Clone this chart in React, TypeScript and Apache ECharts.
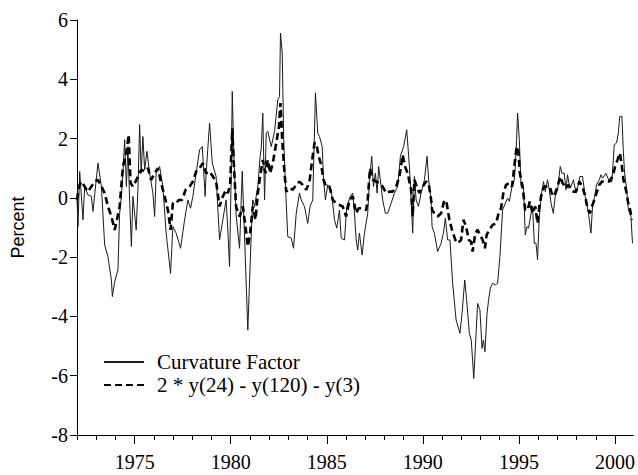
import React, { useEffect, useRef } from "react";
import * as echarts from "echarts";

// Curvature factor (thin solid line), [year, percent]
const curvature: [number, number][] = [
  [1972.0, 0.0], [1972.05, -0.97], [1972.14, 0.89], [1972.31, -0.74], [1972.4, 0.38], [1972.57, 0.1],
  [1972.75, 0.05], [1972.83, -0.46], [1973.09, 1.17], [1973.27, 0.38], [1973.44, -1.59], [1973.61, -1.98],
  [1973.79, -2.77], [1973.84, -3.33], [1973.96, -2.83], [1974.13, -2.43], [1974.22, -0.52], [1974.31, 0.05],
  [1974.39, 0.83], [1974.48, 1.96], [1974.57, 0.38], [1974.65, 1.73], [1974.74, -0.07], [1974.83, -1.64],
  [1974.91, 0.05], [1975.08, -1.08], [1975.17, 0.27], [1975.26, 2.47], [1975.34, 0.83], [1975.43, 2.07],
  [1975.52, 0.95], [1975.64, 1.57], [1975.78, 0.83], [1975.95, 0.16], [1976.04, -0.63], [1976.12, 0.83],
  [1976.3, 1.06], [1976.47, 0.38], [1976.64, -1.19], [1976.87, -2.55], [1976.99, -0.97], [1977.16, -1.19],
  [1977.39, -1.7], [1977.6, -0.74], [1977.77, -0.07], [1977.91, -0.35], [1978.03, 0.05], [1978.2, 0.83],
  [1978.38, 1.62], [1978.52, 1.73], [1978.67, 0.05], [1978.72, 0.83], [1978.9, 2.52], [1979.04, 1.17],
  [1979.24, 0.72], [1979.42, -1.42], [1979.59, -0.74], [1979.76, -0.07], [1979.85, -1.08], [1979.94, -2.32],
  [1980.02, 0.61], [1980.08, 3.59], [1980.15, 1.73], [1980.28, -0.57], [1980.46, -1.7], [1980.6, 0.9],
  [1980.89, -4.46], [1981.07, -1.19], [1981.15, -0.07], [1981.24, -0.29], [1981.41, 0.38], [1981.53, 1.4],
  [1981.59, 1.68], [1981.67, 2.86], [1981.76, -0.07], [1981.85, 2.18], [1981.93, 2.24], [1982.11, 1.73],
  [1982.28, 2.24], [1982.45, 3.31], [1982.54, 3.42], [1982.59, 5.56], [1982.68, 4.89], [1982.76, 1.96],
  [1982.85, 0.38], [1982.97, -1.31], [1983.15, -1.36], [1983.27, -1.7], [1983.41, -0.52], [1983.58, 0.16],
  [1983.67, -0.07], [1983.84, -0.29], [1984.01, -0.86], [1984.13, -0.29], [1984.27, -0.07], [1984.41, 3.54],
  [1984.53, 2.18], [1984.62, 2.07], [1984.76, 1.73], [1984.83, 0.61], [1984.93, -0.07], [1985.05, 0.44],
  [1985.23, 0.27], [1985.4, -0.74], [1985.52, -1.02], [1985.66, -0.41], [1985.75, -1.36], [1985.92, -1.42],
  [1986.04, -0.29], [1986.23, 0.05], [1986.35, 0.16], [1986.44, -0.52], [1986.53, -1.42], [1986.61, -1.76],
  [1986.7, -1.19], [1986.84, -1.93], [1986.96, -1.19], [1987.13, -0.52], [1987.22, 0.61], [1987.34, 1.4],
  [1987.43, 0.38], [1987.53, 0.83], [1987.62, 0.16], [1987.7, 1.06], [1987.83, 0.38], [1987.91, -0.07],
  [1988.05, -0.52], [1988.17, -0.52], [1988.35, -0.18], [1988.52, 0.16], [1988.69, 0.38], [1988.83, 1.4],
  [1989.0, 1.73], [1989.16, 2.3], [1989.3, 1.06], [1989.39, -0.07], [1989.47, -1.19], [1989.56, 0.72],
  [1989.65, -0.07], [1989.77, -0.29], [1989.91, 0.16], [1990.08, 0.61], [1990.22, 1.4], [1990.3, 0.61],
  [1990.43, -0.07], [1990.48, -0.97], [1990.6, -1.19], [1990.77, -1.81], [1990.95, -1.53], [1991.07, -1.19],
  [1991.17, -0.69], [1991.29, -1.42], [1991.41, -1.42], [1991.55, -2.88], [1991.73, -4.12], [1991.93, -4.57],
  [1992.04, -3.9], [1992.18, -2.77], [1992.28, -3.45], [1992.42, -4.57], [1992.52, -4.8], [1992.65, -6.09],
  [1992.77, -4.57], [1992.85, -3.56], [1992.97, -3.78], [1993.08, -5.08], [1993.15, -4.8], [1993.23, -5.19],
  [1993.34, -3.9], [1993.42, -3.45], [1993.51, -3.05], [1993.63, -2.88], [1993.77, -2.94], [1993.89, -2.88],
  [1994.01, -1.98], [1994.15, -0.41], [1994.29, -0.18], [1994.41, -0.01], [1994.5, -0.12], [1994.64, 0.38],
  [1994.76, 0.61], [1994.81, 1.06], [1994.88, 1.96], [1994.93, 2.86], [1995.02, 1.96], [1995.11, 0.38],
  [1995.24, 0.33], [1995.33, -1.25], [1995.42, -0.97], [1995.5, -1.02], [1995.63, -0.52], [1995.71, -0.29],
  [1995.8, -1.53], [1995.89, -1.53], [1995.97, -2.09], [1996.06, -0.63], [1996.18, 0.16], [1996.28, 0.55],
  [1996.37, 0.21], [1996.49, 0.61], [1996.58, 0.27], [1996.67, -0.18], [1996.79, -0.52], [1996.89, 0.05],
  [1997.01, 0.27], [1997.15, 1.06], [1997.24, 0.83], [1997.36, 0.83], [1997.45, 0.27], [1997.53, 0.78],
  [1997.62, 0.44], [1997.71, 0.38], [1997.84, 0.61], [1997.97, 0.16], [1998.09, 0.44], [1998.17, 0.72],
  [1998.31, 0.72], [1998.45, 0.05], [1998.54, -0.24], [1998.62, -0.52], [1998.75, -1.19], [1998.83, -0.29],
  [1998.94, 0.05], [1999.04, 0.44], [1999.18, 0.61], [1999.27, 0.78], [1999.35, 0.66], [1999.53, 0.83],
  [1999.7, 0.55], [1999.84, 0.55], [1999.96, 1.79], [2000.08, 1.85], [2000.17, 2.18], [2000.25, 2.75],
  [2000.36, 2.75], [2000.43, 1.62], [2000.5, 0.83], [2000.6, 0.33], [2000.7, -0.41], [2000.83, -0.63],
  [2000.91, -1.53],
];

// 2 * y(24) - y(120) - y(3) (thick dashed line), [year, percent]
const spread: [number, number][] = [
  [1972.0, -0.07], [1972.1, 0.38], [1972.23, 0.55], [1972.4, 0.38], [1972.57, 0.21], [1972.75, 0.38],
  [1972.92, 0.55], [1973.09, 0.61], [1973.27, 0.38], [1973.44, 0.16], [1973.61, -0.29], [1973.79, -0.63],
  [1973.96, -1.08], [1974.08, -0.74], [1974.22, -0.29], [1974.39, 1.06], [1974.57, 1.51], [1974.69, 2.13],
  [1974.79, 0.5], [1974.91, 0.38], [1975.05, 0.55], [1975.17, 0.72], [1975.34, 0.95], [1975.52, 0.89],
  [1975.69, 1.0], [1975.86, 0.61], [1976.04, 0.83], [1976.21, 1.0], [1976.38, 0.5], [1976.56, 0.05],
  [1976.73, -0.41], [1976.87, -1.08], [1976.99, -0.18], [1977.16, -0.18], [1977.3, -0.07], [1977.47, -0.07],
  [1977.65, 0.27], [1977.86, 0.38], [1978.03, 0.55], [1978.2, 0.89], [1978.38, 1.0], [1978.55, 1.17],
  [1978.72, 0.83], [1978.9, 0.89], [1979.07, 0.72], [1979.24, 0.55], [1979.42, -0.29], [1979.59, 0.05],
  [1979.76, 0.27], [1979.85, 0.16], [1979.97, 0.44], [1980.08, 2.35], [1980.16, 1.17], [1980.28, -0.29],
  [1980.46, -0.63], [1980.63, -0.29], [1980.77, -0.97], [1980.89, -1.64], [1981.01, -1.19], [1981.15, -0.29],
  [1981.29, -0.74], [1981.41, 0.16], [1981.53, 0.72], [1981.67, 1.28], [1981.81, 0.83], [1981.93, 1.28],
  [1982.05, 0.83], [1982.19, 1.17], [1982.37, 1.85], [1982.51, 2.41], [1982.59, 3.2], [1982.68, 1.96],
  [1982.8, 0.83], [1982.89, 0.21], [1983.06, 0.33], [1983.23, 0.27], [1983.41, 0.44], [1983.58, 0.55],
  [1983.75, 0.44], [1983.93, 0.27], [1984.1, 0.55], [1984.24, 1.28], [1984.36, 1.85], [1984.45, 1.85],
  [1984.58, 1.4], [1984.71, 1.11], [1984.83, 0.61], [1984.97, 0.38], [1985.14, 0.38], [1985.31, -0.07],
  [1985.49, -0.18], [1985.66, -0.24], [1985.83, -0.29], [1986.01, -0.63], [1986.18, -0.07], [1986.35, 0.05],
  [1986.53, -0.52], [1986.66, -0.35], [1986.84, -0.35], [1987.05, -0.41], [1987.13, -0.07], [1987.25, 1.0],
  [1987.39, 0.61], [1987.57, 0.55], [1987.74, 0.5], [1987.91, 0.38], [1988.09, 0.16], [1988.26, 0.21],
  [1988.43, 0.21], [1988.61, 0.38], [1988.78, 0.72], [1988.95, 1.45], [1989.07, 1.06], [1989.21, 0.83],
  [1989.39, 0.27], [1989.47, -0.63], [1989.56, 0.61], [1989.68, 0.38], [1989.82, 0.16], [1989.99, 0.38],
  [1990.17, 0.55], [1990.3, 0.5], [1990.43, -0.07], [1990.48, -0.41], [1990.6, -0.52], [1990.77, -0.63],
  [1990.95, -0.52], [1991.12, -0.07], [1991.24, -0.18], [1991.38, -0.74], [1991.52, -1.08], [1991.69, -1.42],
  [1991.81, -1.53], [1991.99, -1.42], [1992.11, -0.74], [1992.25, -0.97], [1992.39, -1.42], [1992.51, -1.48],
  [1992.59, -1.81], [1992.73, -1.19], [1992.85, -1.08], [1992.97, -1.25], [1993.11, -1.42], [1993.23, -1.7],
  [1993.32, -1.25], [1993.46, -1.08], [1993.63, -0.91], [1993.81, -0.86], [1993.94, -0.52], [1994.07, -0.35],
  [1994.19, 0.16], [1994.33, 0.44], [1994.5, 0.5], [1994.64, 0.38], [1994.76, 1.06], [1994.88, 1.73],
  [1994.97, 1.57], [1995.05, 0.83], [1995.19, 0.38], [1995.33, -0.41], [1995.45, -0.41], [1995.57, -0.12],
  [1995.71, -0.52], [1995.85, -0.29], [1995.97, -0.86], [1996.06, -0.29], [1996.2, 0.21], [1996.32, 0.38],
  [1996.49, 0.38], [1996.61, 0.38], [1996.75, 0.05], [1996.89, 0.16], [1997.01, 0.38], [1997.15, 0.72],
  [1997.27, 0.5], [1997.45, 0.33], [1997.58, 0.44], [1997.71, 0.27], [1997.84, 0.21], [1997.97, 0.21],
  [1998.14, 0.55], [1998.31, 0.38], [1998.45, 0.05], [1998.57, -0.35], [1998.69, -0.52], [1998.8, -0.29],
  [1998.92, -0.07], [1999.06, 0.21], [1999.18, 0.44], [1999.32, 0.55], [1999.49, 0.55], [1999.7, 0.55],
  [1999.87, 0.72], [2000.01, 1.06], [2000.13, 1.28], [2000.25, 1.51], [2000.34, 1.17], [2000.44, 0.61],
  [2000.57, 0.27], [2000.69, -0.18], [2000.79, -0.41], [2000.88, -0.74],
];

const yearTicks: number[] = [1972, 1973, 1974, 1975, 1976, 1977, 1978, 1979, 1980, 1981, 1982, 1983, 1984,
  1985, 1986, 1987, 1988, 1989, 1990, 1991, 1992, 1993, 1994, 1995, 1996, 1997, 1998, 1999, 2000];
const yearLabels: number[] = [1975, 1980, 1985, 1990, 1995, 2000];
const seriesNames: string[] = ["Curvature Factor", "2 * y(24) - y(120) - y(3)"];

const SERIF = "'Liberation Serif', 'Times New Roman', serif";
const SANS = "'Liberation Sans', Arial, sans-serif";

export default function App() {
  const ref = useRef<HTMLDivElement>(null);
  useEffect(() => {
    if (!ref.current) return;
    const chart = echarts.init(ref.current, undefined, { renderer: "svg" });
    const xMin = 1972;
    const xMax = 2000.95;
    chart.setOption({
      animation: false,
      backgroundColor: "#ffffff",
      grid: { left: 77, right: 4, top: 20, bottom: 40, containLabel: false },
      legend: {
        left: 103,
        top: 351,
        padding: 0,
        orient: "vertical",
        itemWidth: 40,
        itemHeight: 12,
        itemGap: 1,
        itemStyle: { opacity: 0 },
        textStyle: { fontFamily: SERIF, fontSize: 21, color: "#000", padding: [0, 0, 0, 8], lineHeight: 22 },
        data: seriesNames,
      },
      xAxis: [
        {
          type: "value",
          min: xMin,
          max: xMax,
          position: "bottom",
          axisLine: { show: true, onZero: false, lineStyle: { color: "#000", width: 1 } },
          axisTick: { show: true, inside: false, length: 5, customValues: yearTicks, lineStyle: { color: "#000" } },
          axisLabel: {
            customValues: yearLabels,
            formatter: (v: number) => String(v),
            fontFamily: SERIF,
            fontSize: 20,
            color: "#000",
            margin: 17,
          },
          splitLine: { show: false },
        },
        {
          type: "value",
          min: xMin,
          max: xMax,
          position: "bottom",
          axisLine: { show: false, onZero: false },
          axisTick: { show: true, inside: false, length: 9, customValues: yearLabels, lineStyle: { color: "#000" } },
          axisLabel: { show: false },
          splitLine: { show: false },
        },
      ],
      yAxis: {
        type: "value",
        min: -8,
        max: 6,
        interval: 2,
        name: "Percent",
        nameLocation: "middle",
        nameRotate: 90,
        nameGap: 50,
        nameTextStyle: { fontFamily: SANS, fontSize: 18, color: "#000" },
        axisLine: { show: true, lineStyle: { color: "#000", width: 1 } },
        axisTick: { show: true, inside: false, length: 7, lineStyle: { color: "#000" } },
        axisLabel: { fontFamily: SERIF, fontSize: 20, color: "#000", margin: 9 },
        splitLine: { show: false },
      },
      series: [
        {
          name: seriesNames[0],
          type: "line",
          xAxisIndex: 0,
          data: curvature,
          symbol: "none",
          showSymbol: false,
          lineStyle: { color: "#1a1a1a", width: 1 },
          itemStyle: { color: "#1a1a1a" },
        },
        {
          name: seriesNames[1],
          type: "line",
          xAxisIndex: 0,
          data: spread,
          symbol: "none",
          showSymbol: false,
          lineStyle: { color: "#000", width: 2.6, type: [7, 4] },
          itemStyle: { color: "#000" },
        },
      ],
    });
    return () => chart.dispose();
  }, []);
  return (
    <div
      ref={ref}
      style={{ position: "fixed", left: 0, top: 0, width: 638, height: 475, background: "#fff" }}
    />
  );
}
